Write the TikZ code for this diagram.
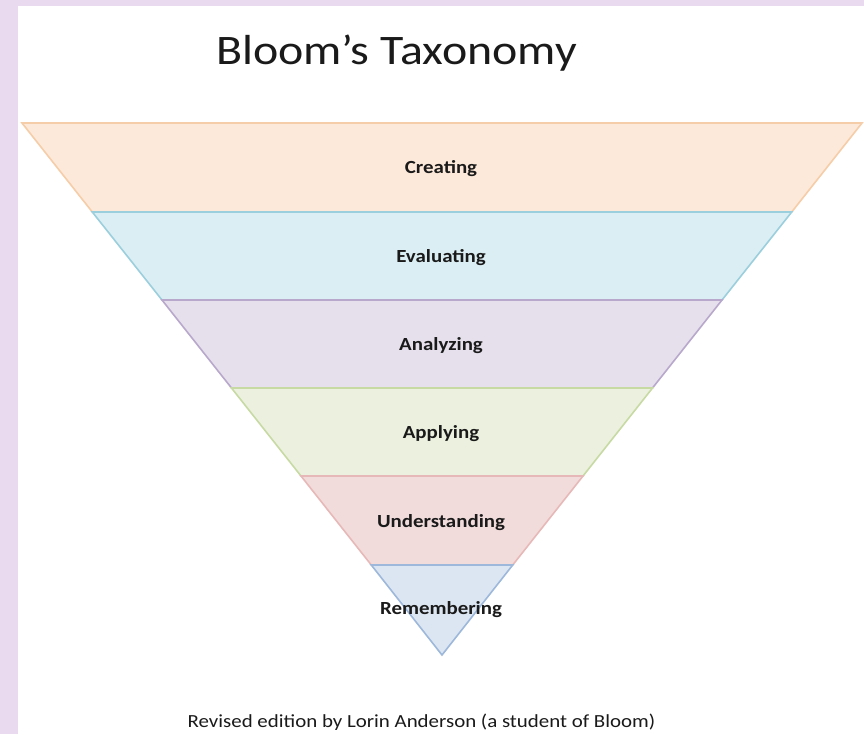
\documentclass[tikz,border=0pt]{standalone}
\usepackage{fontspec}
\setmainfont{Carlito}
\definecolor{bgpurple}{HTML}{E9DAF0}
\definecolor{cfill}{HTML}{FDE9D9}\definecolor{cdraw}{HTML}{F5CDA8}
\definecolor{efill}{HTML}{DAEEF3}\definecolor{edraw}{HTML}{9CCFDD}
\definecolor{afill}{HTML}{E5E0EC}\definecolor{adraw}{HTML}{B8A8CC}
\definecolor{pfill}{HTML}{EBF1DE}\definecolor{pdraw}{HTML}{C8DAA4}
\definecolor{ufill}{HTML}{F2DCDB}\definecolor{udraw}{HTML}{E6B9B8}
\definecolor{rfill}{HTML}{DCE6F2}\definecolor{rdraw}{HTML}{9DB8DA}
\definecolor{txt}{HTML}{1A1A1A}
\tikzset{
  band/.style={line width=1.6pt, line join=miter},
  lbl/.style={font=\fontsize{18.5}{20}\selectfont\bfseries, text=txt, inner sep=0pt, anchor=base, xscale=1.13},
}
\begin{document}
\begin{tikzpicture}[x=1pt,y=-1pt]
\fill[bgpurple] (0,0) rectangle (864,734);
\fill[white] (18,6) rectangle (864,734);
\useasboundingbox (0,0) rectangle (864,734);
\coordinate (L0) at (22,123);   \coordinate (R0) at (862,123);
\coordinate (L1) at (92.3,212); \coordinate (R1) at (791.7,212);
\coordinate (L2) at (162,300);  \coordinate (R2) at (722,300);
\coordinate (L3) at (231.5,388);\coordinate (R3) at (652.5,388);
\coordinate (L4) at (301,476);  \coordinate (R4) at (583,476);
\coordinate (L5) at (371.3,565);\coordinate (R5) at (512.7,565);
\coordinate (A) at (442,655);
\filldraw[band, fill=cfill, draw=cdraw] (L0) -- (R0) -- (R1) -- (L1) -- cycle;
\filldraw[band, fill=efill, draw=edraw] (L1) -- (R1) -- (R2) -- (L2) -- cycle;
\filldraw[band, fill=afill, draw=adraw] (L2) -- (R2) -- (R3) -- (L3) -- cycle;
\filldraw[band, fill=pfill, draw=pdraw] (L3) -- (R3) -- (R4) -- (L4) -- cycle;
\filldraw[band, fill=ufill, draw=udraw] (L4) -- (R4) -- (R5) -- (L5) -- cycle;
\filldraw[band, fill=rfill, draw=rdraw] (L5) -- (R5) -- (A) -- cycle;
\node[lbl] (creating) at (441,173.5) {Creating};
\node[lbl] (evaluating) at (441,262) {Evaluating};
\node[lbl] (analyzing) at (441,350) {Analyzing};
\node[lbl] (applying) at (441,438.5) {Applying};
\node[lbl] (understanding) at (441,527) {Understanding};
\node[lbl] (remembering) at (441,614) {Remembering};
\node[font=\fontsize{42}{46}\selectfont, text=txt, inner sep=0pt, anchor=base, xscale=1.14] (title) at (396.5,64) {Bloom’s Taxonomy};
\node[font=\fontsize{18.5}{20}\selectfont, text=txt, inner sep=0pt, anchor=base, xscale=1.13] (footer) at (421.5,727) {Revised edition by Lorin Anderson (a student of Bloom)};
\end{tikzpicture}
\end{document}
